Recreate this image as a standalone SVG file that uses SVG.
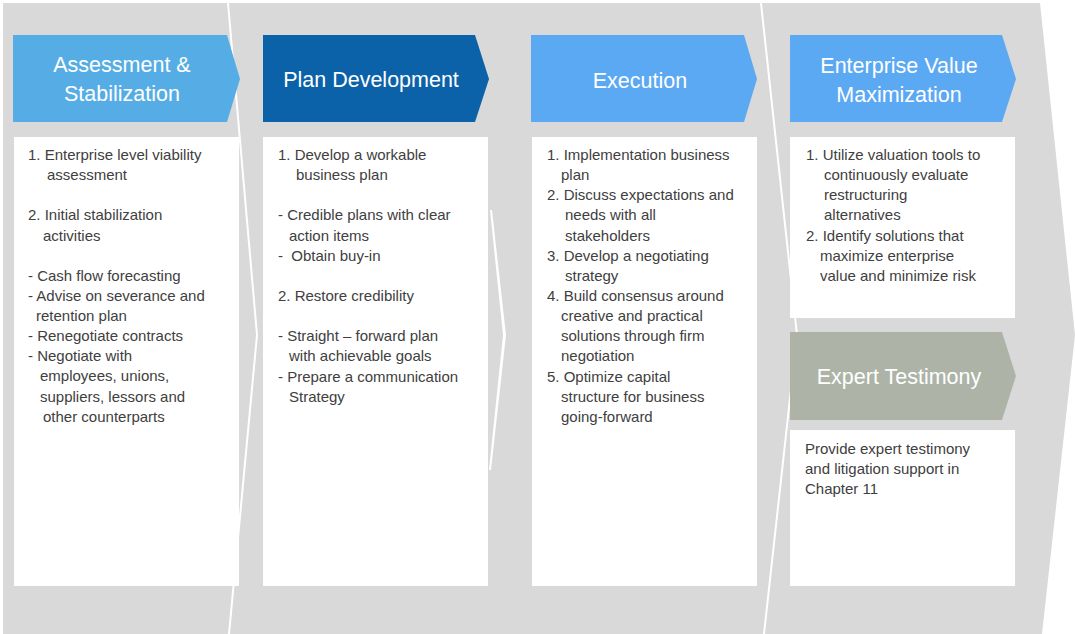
<svg xmlns="http://www.w3.org/2000/svg" width="1075" height="634" viewBox="0 0 1075 634">
<style>
.hd{font-family:"Liberation Sans",Arial,sans-serif;font-size:21.5px;fill:#ffffff;text-anchor:middle}
.bd{font-family:"Liberation Sans",Arial,sans-serif;font-size:15px;fill:#404040}
.box{fill:#ffffff}
.sep{fill:none;stroke:#ffffff;stroke-width:2}
</style>
<rect x="0" y="0" width="1075" height="634" fill="#ffffff"/>
<g id="background">
<polygon points="3,3 1040,3 1075,335 1042,634 3,634" fill="#d9d9d9"/>
<polyline class="sep" points="228,3 257,335 229,634"/>
<polygon points="490,210 492,210 506,335 491,470 489,470 503,335" fill="#ffffff"/>
<polyline class="sep" points="761,3 797,335 764,634"/>
</g>
<g id="assessment">
<polygon points="13,35 227,35 240,79 227,122 13,122" fill="#56ade6"/>
<text class="hd" x="122" y="72">Assessment &amp;</text>
<text class="hd" x="122" y="101">Stabilization</text>
<rect class="box" x="14" y="137" width="225" height="449"/>
<text class="bd">
<tspan x="28" y="160">1. Enterprise level viability</tspan>
<tspan x="47" y="180">assessment</tspan>
<tspan x="28" y="220">2. Initial stabilization</tspan>
<tspan x="43" y="241">activities</tspan>
<tspan x="28" y="281">- Cash flow forecasting</tspan>
<tspan x="28" y="301">- Advise on severance and</tspan>
<tspan x="36" y="321">retention plan</tspan>
<tspan x="28" y="341">- Renegotiate contracts</tspan>
<tspan x="28" y="361">- Negotiate with</tspan>
<tspan x="40" y="381">employees, unions,</tspan>
<tspan x="40" y="402">suppliers, lessors and</tspan>
<tspan x="43" y="422">other counterparts</tspan>
</text>
</g>
<g id="plan-development">
<polygon points="263,35 475,35 489,79 475,122 263,122" fill="#0b62a8"/>
<text class="hd" x="371" y="87">Plan Development</text>
<rect class="box" x="263" y="137" width="225" height="449"/>
<text class="bd">
<tspan x="278" y="160">1. Develop a workable</tspan>
<tspan x="296" y="180">business plan</tspan>
<tspan x="278" y="220">- Credible plans with clear</tspan>
<tspan x="289" y="241">action items</tspan>
<tspan x="278" y="261">-&#160; Obtain buy-in</tspan>
<tspan x="278" y="301">2. Restore credibility</tspan>
<tspan x="278" y="341">- Straight – forward plan</tspan>
<tspan x="289" y="361">with achievable goals</tspan>
<tspan x="278" y="382">- Prepare a communication</tspan>
<tspan x="289" y="402">Strategy</tspan>
</text>
</g>
<g id="execution">
<polygon points="531,35 744,35 757,79 744,122 531,122" fill="#5ca9f3"/>
<text class="hd" x="640" y="88">Execution</text>
<rect class="box" x="532" y="137" width="225" height="449"/>
<text class="bd">
<tspan x="547" y="160">1. Implementation business</tspan>
<tspan x="561" y="180">plan</tspan>
<tspan x="547" y="200">2. Discuss expectations and</tspan>
<tspan x="565" y="220">needs with all</tspan>
<tspan x="565" y="241">stakeholders</tspan>
<tspan x="547" y="261">3. Develop a negotiating</tspan>
<tspan x="565" y="281">strategy</tspan>
<tspan x="547" y="301">4. Build consensus around</tspan>
<tspan x="561" y="321">creative and practical</tspan>
<tspan x="561" y="341">solutions through firm</tspan>
<tspan x="561" y="361">negotiation</tspan>
<tspan x="547" y="382">5. Optimize capital</tspan>
<tspan x="561" y="402">structure for business</tspan>
<tspan x="561" y="422">going-forward</tspan>
</text>
</g>
<g id="enterprise-value">
<polygon points="790,35 1002,35 1016,79 1002,122 790,122" fill="#5ca9f3"/>
<text class="hd" x="899" y="73">Enterprise Value</text>
<text class="hd" x="899" y="102">Maximization</text>
<rect class="box" x="790" y="137" width="225" height="181"/>
<text class="bd">
<tspan x="806" y="160">1. Utilize valuation tools to</tspan>
<tspan x="824" y="180">continuously evaluate</tspan>
<tspan x="824" y="200">restructuring</tspan>
<tspan x="824" y="220">alternatives</tspan>
<tspan x="806" y="241">2. Identify solutions that</tspan>
<tspan x="820" y="261">maximize enterprise</tspan>
<tspan x="820" y="281">value and minimize risk</tspan>
</text>
</g>
<g id="expert-testimony">
<polygon points="790,332 1002,332 1016,376 1002,420 790,420" fill="#adb4a7"/>
<text class="hd" x="899" y="384">Expert Testimony</text>
<rect class="box" x="790" y="430" width="225" height="156"/>
<text class="bd">
<tspan x="805" y="454">Provide expert testimony</tspan>
<tspan x="805" y="474">and litigation support in</tspan>
<tspan x="805" y="494">Chapter 11</tspan>
</text>
</g>
</svg>
